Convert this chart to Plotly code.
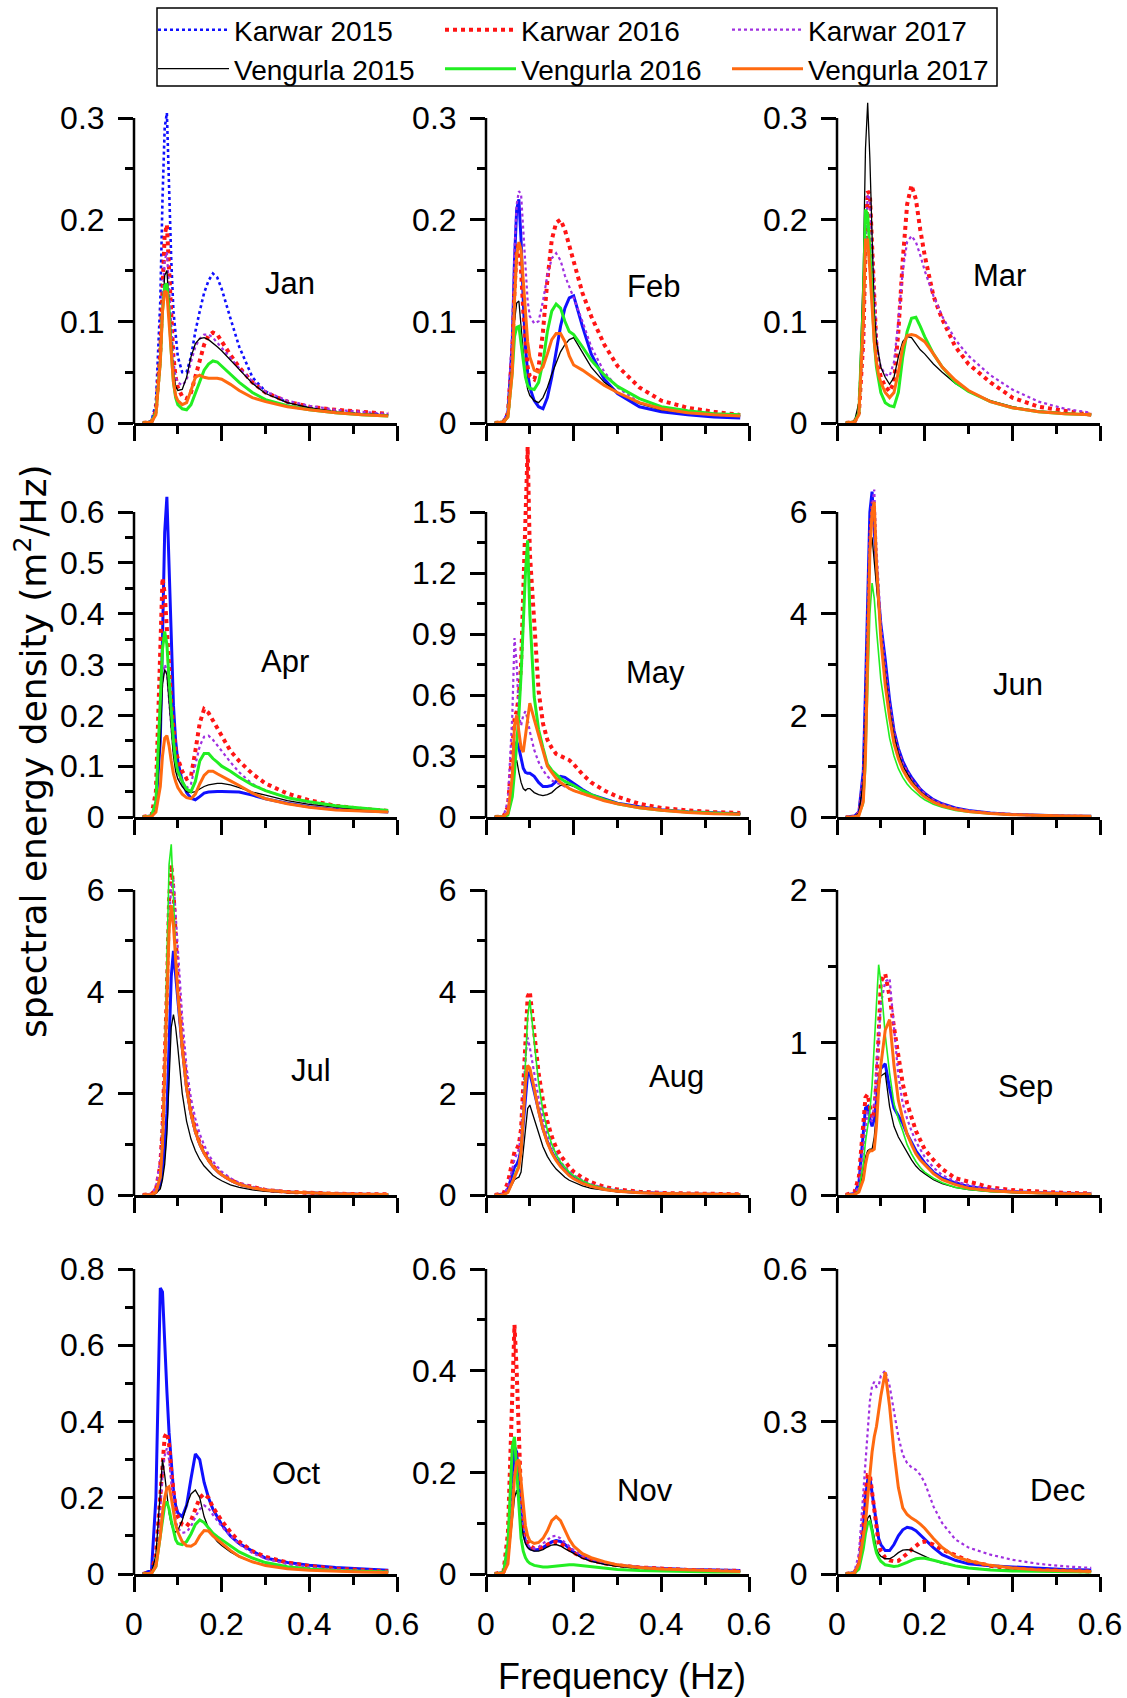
import plotly.graph_objects as go

# ---------------- data ----------------
FREQ = [0.02, 0.04, 0.05, 0.06, 0.065, 0.07, 0.075, 0.08, 0.085, 0.09, 0.095, 0.10, 0.11, 0.12, 0.13,
        0.14, 0.15, 0.16, 0.17, 0.18, 0.19, 0.20, 0.22, 0.24, 0.27, 0.30, 0.35, 0.40, 0.46, 0.52, 0.58]

JAN_K15 = [0, 0.002, 0.02, 0.12, 0.22, 0.29, 0.305, 0.23, 0.16, 0.11, 0.085, 0.065, 0.05, 0.05, 0.065, 0.09, 0.11, 0.128, 0.14, 0.147, 0.143, 0.132, 0.103, 0.075, 0.045, 0.031, 0.02, 0.015, 0.011, 0.009, 0.008]
JAN_K16 = [0, 0.001, 0.012, 0.07, 0.13, 0.185, 0.195, 0.15, 0.1, 0.065, 0.045, 0.035, 0.026, 0.024, 0.03, 0.045, 0.062, 0.077, 0.086, 0.089, 0.087, 0.08, 0.067, 0.055, 0.04, 0.03, 0.021, 0.016, 0.013, 0.011, 0.009]
JAN_K17 = [0, 0.001, 0.012, 0.065, 0.12, 0.16, 0.168, 0.13, 0.09, 0.06, 0.045, 0.04, 0.037, 0.042, 0.06, 0.075, 0.083, 0.087, 0.087, 0.084, 0.079, 0.074, 0.064, 0.054, 0.041, 0.031, 0.022, 0.017, 0.013, 0.011, 0.009]
JAN_V15 = [0, 0.001, 0.01, 0.06, 0.11, 0.145, 0.15, 0.12, 0.08, 0.05, 0.036, 0.032, 0.033, 0.045, 0.065, 0.078, 0.083, 0.084, 0.082, 0.078, 0.075, 0.071, 0.062, 0.052, 0.039, 0.029, 0.02, 0.015, 0.011, 0.009, 0.008]
JAN_V16 = [0, 0.001, 0.01, 0.06, 0.11, 0.135, 0.137, 0.11, 0.07, 0.04, 0.025, 0.018, 0.014, 0.013, 0.018, 0.03, 0.042, 0.052, 0.058, 0.061, 0.06, 0.056, 0.048, 0.04, 0.03, 0.023, 0.017, 0.013, 0.01, 0.008, 0.007]
JAN_V17 = [0, 0.001, 0.008, 0.06, 0.11, 0.13, 0.128, 0.1, 0.065, 0.04, 0.027, 0.022, 0.018, 0.02, 0.032, 0.045, 0.047, 0.045, 0.044, 0.044, 0.044, 0.043, 0.038, 0.032, 0.025, 0.021, 0.016, 0.013, 0.01, 0.008, 0.007]

FEB_K15 = [0, 0.001, 0.01, 0.08, 0.16, 0.21, 0.22, 0.18, 0.12, 0.075, 0.05, 0.035, 0.022, 0.016, 0.014, 0.025, 0.045, 0.07, 0.095, 0.113, 0.123, 0.125, 0.095, 0.068, 0.043, 0.029, 0.016, 0.011, 0.008, 0.006, 0.005]
FEB_K16 = [0, 0.001, 0.01, 0.07, 0.13, 0.17, 0.177, 0.15, 0.11, 0.075, 0.055, 0.046, 0.043, 0.055, 0.09, 0.14, 0.18, 0.197, 0.2, 0.19, 0.175, 0.158, 0.128, 0.105, 0.077, 0.056, 0.035, 0.022, 0.015, 0.011, 0.008]
FEB_K17 = [0, 0.001, 0.012, 0.09, 0.17, 0.215, 0.228, 0.225, 0.19, 0.15, 0.12, 0.105, 0.098, 0.1, 0.12, 0.145, 0.162, 0.167, 0.16, 0.145, 0.133, 0.123, 0.1, 0.075, 0.05, 0.035, 0.02, 0.014, 0.01, 0.008, 0.007]
FEB_V15 = [0, 0.001, 0.008, 0.06, 0.1, 0.118, 0.12, 0.095, 0.065, 0.045, 0.033, 0.027, 0.022, 0.02, 0.025, 0.035, 0.048, 0.06, 0.07, 0.077, 0.082, 0.084, 0.07, 0.055, 0.04, 0.03, 0.019, 0.013, 0.01, 0.008, 0.007]
FEB_V16 = [0, 0.001, 0.006, 0.05, 0.085, 0.094, 0.095, 0.08, 0.06, 0.045, 0.037, 0.034, 0.033, 0.04, 0.06, 0.09, 0.11, 0.117, 0.113, 0.1, 0.09, 0.087, 0.075, 0.062, 0.047, 0.036, 0.024, 0.016, 0.012, 0.009, 0.008]
FEB_V17 = [0, 0.001, 0.006, 0.05, 0.12, 0.165, 0.178, 0.17, 0.14, 0.11, 0.08, 0.065, 0.052, 0.05, 0.055, 0.068, 0.082, 0.088, 0.088, 0.08, 0.066, 0.057, 0.052, 0.046, 0.037, 0.03, 0.02, 0.014, 0.01, 0.008, 0.007]

MAR_K15 = None
MAR_K16 = [0, 0.001, 0.01, 0.08, 0.17, 0.228, 0.225, 0.17, 0.11, 0.075, 0.055, 0.045, 0.036, 0.031, 0.04, 0.09, 0.16, 0.215, 0.234, 0.22, 0.19, 0.165, 0.125, 0.102, 0.075, 0.058, 0.04, 0.025, 0.016, 0.012, 0.008]
MAR_K17 = [0, 0.001, 0.01, 0.08, 0.17, 0.225, 0.22, 0.17, 0.12, 0.085, 0.065, 0.055, 0.048, 0.046, 0.06, 0.1, 0.15, 0.178, 0.184, 0.178, 0.165, 0.15, 0.125, 0.105, 0.082, 0.066, 0.047, 0.033, 0.021, 0.014, 0.01]
MAR_V15 = [0, 0.002, 0.02, 0.15, 0.27, 0.315, 0.26, 0.17, 0.11, 0.08, 0.065, 0.055, 0.045, 0.038, 0.045, 0.065, 0.08, 0.085, 0.084, 0.078, 0.072, 0.068, 0.058, 0.05, 0.039, 0.031, 0.022, 0.016, 0.012, 0.01, 0.008]
MAR_V16 = [0, 0.001, 0.01, 0.12, 0.21, 0.205, 0.17, 0.12, 0.08, 0.055, 0.04, 0.03, 0.02, 0.017, 0.016, 0.03, 0.065, 0.09, 0.103, 0.104, 0.095, 0.085, 0.068, 0.055, 0.04, 0.031, 0.021, 0.015, 0.011, 0.009, 0.008]
MAR_V17 = [0, 0.001, 0.008, 0.1, 0.18, 0.18, 0.15, 0.11, 0.08, 0.06, 0.047, 0.04, 0.03, 0.025, 0.03, 0.05, 0.075, 0.086, 0.087, 0.086, 0.083, 0.08, 0.068, 0.055, 0.042, 0.032, 0.021, 0.015, 0.011, 0.009, 0.008]

APR_K15 = [0, 0.002, 0.02, 0.15, 0.35, 0.56, 0.63, 0.5, 0.33, 0.22, 0.15, 0.11, 0.07, 0.048, 0.037, 0.034, 0.04, 0.047, 0.049, 0.05, 0.05, 0.05, 0.05, 0.049, 0.043, 0.036, 0.027, 0.02, 0.015, 0.012, 0.01]
APR_K16 = [0, 0.003, 0.05, 0.3, 0.47, 0.44, 0.38, 0.3, 0.22, 0.17, 0.13, 0.115, 0.09, 0.075, 0.08, 0.13, 0.185, 0.212, 0.205, 0.19, 0.175, 0.16, 0.13, 0.11, 0.085, 0.066, 0.046, 0.033, 0.022, 0.016, 0.012]
APR_K17 = [0, 0.002, 0.03, 0.18, 0.27, 0.3, 0.29, 0.23, 0.17, 0.13, 0.1, 0.085, 0.065, 0.057, 0.065, 0.1, 0.14, 0.158, 0.16, 0.152, 0.14, 0.13, 0.108, 0.088, 0.065, 0.052, 0.038, 0.028, 0.019, 0.014, 0.01]
APR_V15 = [0, 0.002, 0.02, 0.15, 0.26, 0.29, 0.28, 0.22, 0.16, 0.12, 0.09, 0.075, 0.06, 0.05, 0.048, 0.05, 0.055, 0.06, 0.063, 0.065, 0.066, 0.066, 0.063, 0.058, 0.049, 0.043, 0.032, 0.025, 0.019, 0.014, 0.01]
APR_V16 = [0, 0.002, 0.03, 0.22, 0.33, 0.365, 0.34, 0.27, 0.2, 0.15, 0.11, 0.09, 0.07, 0.055, 0.05, 0.07, 0.11, 0.125, 0.125, 0.115, 0.108, 0.1, 0.09, 0.078, 0.063, 0.052, 0.038, 0.03, 0.022, 0.017, 0.013]
APR_V17 = [0, 0.001, 0.01, 0.06, 0.12, 0.155, 0.16, 0.14, 0.11, 0.085, 0.07, 0.058, 0.045, 0.038, 0.036, 0.045, 0.065, 0.082, 0.09, 0.09, 0.085, 0.08, 0.071, 0.062, 0.047, 0.036, 0.026, 0.019, 0.014, 0.012, 0.01]

MAY_K15 = [0, 0.002, 0.02, 0.15, 0.3, 0.37, 0.34, 0.28, 0.24, 0.22, 0.215, 0.215, 0.2, 0.17, 0.15, 0.15, 0.155, 0.175, 0.2, 0.195, 0.18, 0.165, 0.135, 0.11, 0.088, 0.068, 0.05, 0.036, 0.026, 0.02, 0.016]
MAY_K16 = [0, 0.003, 0.05, 0.3, 0.48, 0.52, 0.6, 0.75, 1.1, 1.5, 1.82, 1.3, 0.92, 0.62, 0.46, 0.38, 0.34, 0.31, 0.3, 0.29, 0.28, 0.26, 0.21, 0.17, 0.13, 0.1, 0.065, 0.045, 0.032, 0.024, 0.02]
MAY_K17 = [0, 0.003, 0.08, 0.5, 0.88, 0.75, 0.5, 0.45, 0.5, 0.52, 0.48, 0.42, 0.33, 0.27, 0.23, 0.2, 0.18, 0.17, 0.16, 0.15, 0.14, 0.13, 0.115, 0.1, 0.08, 0.066, 0.048, 0.035, 0.025, 0.02, 0.016]
MAY_V15 = [0, 0.002, 0.02, 0.15, 0.26, 0.28, 0.22, 0.17, 0.14, 0.13, 0.14, 0.14, 0.12, 0.11, 0.105, 0.11, 0.12, 0.14, 0.155, 0.16, 0.158, 0.15, 0.13, 0.11, 0.088, 0.068, 0.048, 0.035, 0.025, 0.02, 0.016]
MAY_V16 = [0, 0.001, 0.01, 0.1, 0.22, 0.35, 0.5, 0.7, 0.95, 1.2, 1.36, 1.0, 0.59, 0.43, 0.34, 0.26, 0.23, 0.21, 0.19, 0.175, 0.165, 0.155, 0.13, 0.11, 0.085, 0.065, 0.045, 0.033, 0.024, 0.018, 0.013]
MAY_V17 = [0, 0.002, 0.02, 0.2, 0.45, 0.5, 0.42, 0.34, 0.32, 0.4, 0.5, 0.56, 0.48, 0.4, 0.33, 0.25, 0.22, 0.19, 0.17, 0.155, 0.14, 0.13, 0.115, 0.1, 0.08, 0.065, 0.045, 0.033, 0.022, 0.016, 0.013]

JUN_K15 = [0, 0.02, 0.1, 0.9, 2.5, 4.5, 6.0, 6.4, 5.6, 4.9, 4.3, 3.8, 3.1, 2.3, 1.7, 1.35, 1.1, 0.92, 0.78, 0.66, 0.55, 0.47, 0.34, 0.26, 0.18, 0.13, 0.08, 0.05, 0.03, 0.02, 0.015]
JUN_K16 = [0, 0.02, 0.1, 0.8, 2.2, 4.0, 5.6, 6.2, 5.9, 4.9, 4.2, 3.7, 2.9, 2.2, 1.65, 1.3, 1.05, 0.88, 0.74, 0.63, 0.53, 0.45, 0.33, 0.25, 0.17, 0.12, 0.075, 0.048, 0.03, 0.02, 0.015]
JUN_K17 = [0, 0.02, 0.1, 0.8, 2.0, 3.8, 5.4, 6.1, 6.44, 5.3, 4.4, 3.8, 2.9, 2.2, 1.65, 1.3, 1.05, 0.88, 0.74, 0.63, 0.53, 0.45, 0.33, 0.25, 0.17, 0.12, 0.075, 0.048, 0.03, 0.02, 0.015]
JUN_V15 = [0, 0.01, 0.08, 0.7, 2.0, 3.8, 5.2, 5.5, 5.0, 4.5, 4.0, 3.6, 2.8, 2.1, 1.6, 1.25, 1.0, 0.84, 0.71, 0.6, 0.5, 0.43, 0.31, 0.23, 0.16, 0.11, 0.07, 0.045, 0.028, 0.018, 0.013]
JUN_V16 = [0, 0.005, 0.03, 0.25, 0.9, 2.4, 4.0, 4.6, 4.3, 3.7, 3.1, 2.7, 2.1, 1.55, 1.2, 0.95, 0.78, 0.65, 0.55, 0.47, 0.4, 0.34, 0.25, 0.19, 0.13, 0.095, 0.06, 0.04, 0.025, 0.016, 0.012]
JUN_V17 = [0, 0.005, 0.03, 0.3, 1.2, 3.2, 5.2, 6.0, 6.2, 5.0, 4.1, 3.5, 2.6, 1.95, 1.45, 1.15, 0.93, 0.78, 0.66, 0.56, 0.47, 0.4, 0.29, 0.22, 0.15, 0.11, 0.07, 0.045, 0.028, 0.018, 0.013]

JUL_K15 = [0, 0.01, 0.05, 0.2, 0.5, 0.9, 1.6, 3.0, 4.3, 4.8, 4.3, 3.8, 2.9, 2.1, 1.6, 1.25, 1.0, 0.82, 0.68, 0.56, 0.47, 0.4, 0.29, 0.21, 0.14, 0.1, 0.06, 0.04, 0.025, 0.017, 0.012]
JUL_K16 = [0, 0.02, 0.1, 0.6, 1.3, 2.4, 4.0, 5.8, 6.5, 6.0, 5.0, 4.2, 3.0, 2.2, 1.65, 1.28, 1.02, 0.84, 0.7, 0.58, 0.48, 0.41, 0.3, 0.22, 0.15, 0.1, 0.06, 0.04, 0.025, 0.017, 0.012]
JUL_K17 = [0, 0.03, 0.15, 0.7, 1.5, 2.6, 4.0, 5.4, 6.1, 6.2, 5.5, 4.8, 3.5, 2.5, 1.9, 1.5, 1.2, 0.98, 0.8, 0.66, 0.55, 0.46, 0.33, 0.24, 0.16, 0.11, 0.065, 0.042, 0.026, 0.018, 0.013]
JUL_V15 = [0, 0.005, 0.03, 0.12, 0.3, 0.6, 1.2, 2.3, 3.3, 3.55, 3.3, 2.9, 2.0, 1.45, 1.1, 0.87, 0.7, 0.57, 0.47, 0.39, 0.33, 0.28, 0.2, 0.15, 0.1, 0.07, 0.045, 0.03, 0.02, 0.013, 0.01]
JUL_V16 = [0, 0.01, 0.05, 0.4, 1.2, 2.6, 4.6, 6.5, 6.9, 5.8, 4.8, 4.0, 2.9, 2.1, 1.6, 1.25, 1.0, 0.82, 0.68, 0.56, 0.47, 0.4, 0.29, 0.21, 0.14, 0.1, 0.06, 0.04, 0.025, 0.017, 0.012]
JUL_V17 = [0, 0.01, 0.05, 0.35, 1.0, 2.2, 3.8, 5.2, 5.7, 5.3, 4.6, 3.97, 2.9, 2.1, 1.6, 1.25, 1.0, 0.82, 0.68, 0.56, 0.47, 0.4, 0.29, 0.21, 0.14, 0.1, 0.06, 0.04, 0.025, 0.017, 0.012]

AUG_K15 = [0, 0.02, 0.12, 0.4, 0.55, 0.6, 0.7, 0.9, 1.4, 2.0, 2.4, 2.4, 2.05, 1.65, 1.3, 1.05, 0.85, 0.7, 0.58, 0.48, 0.4, 0.34, 0.25, 0.18, 0.12, 0.08, 0.05, 0.03, 0.02, 0.014, 0.01]
AUG_K16 = [0, 0.03, 0.25, 0.6, 0.85, 0.9, 1.0, 1.3, 2.0, 3.0, 3.9, 4.0, 3.2, 2.4, 1.85, 1.45, 1.15, 0.93, 0.78, 0.66, 0.55, 0.46, 0.34, 0.25, 0.16, 0.11, 0.065, 0.04, 0.025, 0.018, 0.014]
AUG_K17 = [0, 0.02, 0.15, 0.5, 0.7, 0.8, 0.9, 1.2, 1.9, 2.7, 3.1, 2.9, 2.4, 1.9, 1.5, 1.2, 0.97, 0.8, 0.66, 0.55, 0.46, 0.39, 0.29, 0.21, 0.14, 0.095, 0.058, 0.036, 0.022, 0.016, 0.012]
AUG_V15 = [0, 0.005, 0.05, 0.2, 0.3, 0.33, 0.35, 0.45, 0.9, 1.4, 1.7, 1.77, 1.5, 1.2, 0.95, 0.76, 0.62, 0.51, 0.42, 0.35, 0.29, 0.25, 0.18, 0.13, 0.09, 0.06, 0.038, 0.025, 0.016, 0.011, 0.008]
AUG_V16 = [0, 0.005, 0.05, 0.25, 0.4, 0.5, 0.6, 0.9, 1.6, 2.6, 3.5, 3.84, 3.0, 2.2, 1.65, 1.28, 1.0, 0.8, 0.65, 0.54, 0.45, 0.38, 0.28, 0.2, 0.13, 0.09, 0.055, 0.035, 0.022, 0.015, 0.011]
AUG_V17 = [0, 0.005, 0.05, 0.25, 0.38, 0.45, 0.55, 0.85, 1.5, 2.2, 2.55, 2.5, 2.1, 1.65, 1.3, 1.03, 0.83, 0.68, 0.56, 0.46, 0.38, 0.32, 0.23, 0.17, 0.11, 0.075, 0.045, 0.03, 0.019, 0.013, 0.01]

SEP_K15 = [0, 0.01, 0.08, 0.4, 0.57, 0.58, 0.5, 0.45, 0.5, 0.62, 0.75, 0.83, 0.86, 0.7, 0.57, 0.52, 0.47, 0.4, 0.34, 0.29, 0.25, 0.21, 0.15, 0.11, 0.08, 0.055, 0.035, 0.022, 0.015, 0.011, 0.008]
SEP_K16 = [0, 0.02, 0.12, 0.5, 0.64, 0.66, 0.58, 0.5, 0.55, 0.75, 1.05, 1.4, 1.45, 1.3, 1.1, 0.9, 0.73, 0.6, 0.5, 0.42, 0.36, 0.3, 0.23, 0.17, 0.11, 0.085, 0.05, 0.032, 0.02, 0.014, 0.01]
SEP_K17 = [0, 0.01, 0.06, 0.3, 0.45, 0.55, 0.5, 0.48, 0.6, 0.8, 1.05, 1.25, 1.4, 1.42, 1.1, 0.78, 0.6, 0.5, 0.42, 0.35, 0.3, 0.25, 0.18, 0.13, 0.09, 0.065, 0.04, 0.026, 0.017, 0.012, 0.009]
SEP_V15 = [0, 0.005, 0.03, 0.15, 0.25, 0.29, 0.3, 0.3, 0.38, 0.55, 0.7, 0.78, 0.8, 0.58, 0.45, 0.38, 0.33, 0.28, 0.23, 0.19, 0.16, 0.14, 0.1, 0.075, 0.05, 0.035, 0.022, 0.015, 0.01, 0.007, 0.005]
SEP_V16 = [0, 0.005, 0.03, 0.2, 0.35, 0.45, 0.55, 0.72, 0.95, 1.25, 1.51, 1.4, 1.05, 0.8, 0.6, 0.5, 0.42, 0.33, 0.27, 0.22, 0.18, 0.15, 0.11, 0.08, 0.05, 0.036, 0.022, 0.015, 0.01, 0.007, 0.005]
SEP_V17 = [0, 0.003, 0.02, 0.1, 0.2, 0.27, 0.29, 0.29, 0.3, 0.45, 0.7, 0.85, 1.08, 1.15, 0.85, 0.62, 0.5, 0.4, 0.33, 0.27, 0.23, 0.2, 0.14, 0.1, 0.068, 0.045, 0.028, 0.019, 0.013, 0.009, 0.007]

OCT_K15 = [0, 0.01, 0.2, 0.75, 0.74, 0.6, 0.48, 0.37, 0.28, 0.22, 0.18, 0.16, 0.15, 0.18, 0.25, 0.315, 0.3, 0.24, 0.2, 0.17, 0.15, 0.13, 0.1, 0.08, 0.06, 0.042, 0.03, 0.023, 0.017, 0.013, 0.01]
OCT_K16 = [0, 0.005, 0.05, 0.2, 0.3, 0.36, 0.37, 0.34, 0.27, 0.21, 0.17, 0.15, 0.13, 0.125, 0.14, 0.17, 0.2, 0.21, 0.2, 0.175, 0.155, 0.14, 0.11, 0.085, 0.06, 0.045, 0.03, 0.021, 0.014, 0.01, 0.007]
OCT_K17 = [0, 0.004, 0.04, 0.17, 0.26, 0.31, 0.33, 0.3, 0.24, 0.18, 0.14, 0.12, 0.108, 0.11, 0.125, 0.15, 0.17, 0.18, 0.172, 0.155, 0.14, 0.125, 0.1, 0.078, 0.055, 0.04, 0.026, 0.018, 0.012, 0.009, 0.006]
OCT_V15 = [0, 0.004, 0.05, 0.22, 0.3, 0.26, 0.2, 0.16, 0.13, 0.115, 0.11, 0.115, 0.14, 0.18, 0.21, 0.22, 0.2, 0.15, 0.12, 0.1, 0.085, 0.075, 0.058, 0.045, 0.032, 0.024, 0.016, 0.011, 0.008, 0.006, 0.005]
OCT_V16 = [0, 0.002, 0.02, 0.1, 0.15, 0.18, 0.19, 0.17, 0.14, 0.11, 0.09, 0.08, 0.077, 0.085, 0.105, 0.13, 0.142, 0.135, 0.12, 0.107, 0.098, 0.09, 0.072, 0.058, 0.042, 0.03, 0.019, 0.013, 0.009, 0.007, 0.005]
OCT_V17 = [0, 0.002, 0.02, 0.1, 0.16, 0.2, 0.225, 0.229, 0.2, 0.16, 0.13, 0.11, 0.085, 0.074, 0.073, 0.08, 0.1, 0.114, 0.113, 0.1, 0.09, 0.08, 0.062, 0.046, 0.032, 0.022, 0.014, 0.01, 0.007, 0.005, 0.004]

NOV_K15 = [0, 0.003, 0.04, 0.18, 0.25, 0.24, 0.18, 0.12, 0.085, 0.065, 0.055, 0.05, 0.047, 0.048, 0.052, 0.058, 0.063, 0.066, 0.064, 0.058, 0.05, 0.043, 0.033, 0.027, 0.021, 0.017, 0.013, 0.011, 0.009, 0.008, 0.007]
NOV_K16 = [0, 0.005, 0.08, 0.35, 0.49, 0.4, 0.25, 0.15, 0.1, 0.075, 0.063, 0.056, 0.05, 0.05, 0.053, 0.058, 0.062, 0.063, 0.06, 0.054, 0.048, 0.042, 0.033, 0.027, 0.021, 0.017, 0.013, 0.01, 0.008, 0.007, 0.006]
NOV_K17 = [0, 0.003, 0.04, 0.15, 0.2, 0.2, 0.16, 0.11, 0.08, 0.065, 0.057, 0.052, 0.05, 0.053, 0.06, 0.068, 0.074, 0.075, 0.07, 0.062, 0.054, 0.047, 0.036, 0.029, 0.022, 0.018, 0.014, 0.011, 0.009, 0.008, 0.007]
NOV_V15 = [0, 0.002, 0.02, 0.1, 0.15, 0.165, 0.14, 0.1, 0.075, 0.06, 0.052, 0.048, 0.045, 0.045, 0.048, 0.053, 0.057, 0.058, 0.055, 0.05, 0.045, 0.04, 0.031, 0.025, 0.019, 0.015, 0.011, 0.009, 0.007, 0.006, 0.005]
NOV_V16 = [0, 0.003, 0.06, 0.25, 0.27, 0.2, 0.12, 0.07, 0.045, 0.032, 0.025, 0.021, 0.017, 0.015, 0.014, 0.014, 0.015, 0.016, 0.017, 0.018, 0.018, 0.018, 0.016, 0.014, 0.011, 0.009, 0.007, 0.006, 0.005, 0.004, 0.004]
NOV_V17 = [0, 0.002, 0.02, 0.12, 0.19, 0.22, 0.225, 0.18, 0.13, 0.095, 0.075, 0.065, 0.06, 0.062, 0.07, 0.085, 0.105, 0.113, 0.105, 0.085, 0.068, 0.055, 0.04, 0.032, 0.024, 0.018, 0.013, 0.01, 0.008, 0.006, 0.005]

DEC_K15 = [0, 0.003, 0.02, 0.09, 0.15, 0.185, 0.19, 0.16, 0.12, 0.09, 0.07, 0.058, 0.046, 0.046, 0.058, 0.075, 0.087, 0.092, 0.09, 0.085, 0.077, 0.07, 0.052, 0.038, 0.027, 0.02, 0.016, 0.014, 0.011, 0.009, 0.008]
DEC_K16 = [0, 0.003, 0.02, 0.1, 0.16, 0.195, 0.195, 0.16, 0.12, 0.085, 0.06, 0.045, 0.032, 0.027, 0.025, 0.026, 0.032, 0.04, 0.048, 0.056, 0.062, 0.064, 0.058, 0.048, 0.036, 0.026, 0.016, 0.011, 0.008, 0.006, 0.005]
DEC_K17 = [0, 0.005, 0.04, 0.15, 0.22, 0.28, 0.34, 0.37, 0.378, 0.368, 0.37, 0.39, 0.4, 0.37, 0.32, 0.27, 0.235, 0.218, 0.21, 0.205, 0.195, 0.18, 0.133, 0.1, 0.068, 0.052, 0.038, 0.028, 0.02, 0.015, 0.012]
DEC_V15 = [0, 0.002, 0.015, 0.06, 0.09, 0.11, 0.116, 0.095, 0.07, 0.05, 0.04, 0.035, 0.03, 0.03, 0.035, 0.042, 0.047, 0.048, 0.047, 0.043, 0.038, 0.034, 0.027, 0.021, 0.016, 0.012, 0.009, 0.007, 0.006, 0.005, 0.005]
DEC_V16 = [0, 0.002, 0.01, 0.05, 0.08, 0.1, 0.103, 0.085, 0.06, 0.042, 0.032, 0.025, 0.018, 0.016, 0.015, 0.016, 0.019, 0.023, 0.027, 0.03, 0.031, 0.031, 0.027, 0.022, 0.016, 0.012, 0.008, 0.006, 0.005, 0.004, 0.004]
DEC_V17 = [0, 0.002, 0.02, 0.07, 0.1, 0.15, 0.2, 0.24, 0.27, 0.29, 0.32, 0.35, 0.397, 0.33, 0.24, 0.17, 0.13, 0.117, 0.11, 0.105, 0.098, 0.09, 0.07, 0.052, 0.034, 0.026, 0.017, 0.012, 0.008, 0.006, 0.005]

MONTHS = ["Jan", "Feb", "Mar", "Apr", "May", "Jun", "Jul", "Aug", "Sep", "Oct", "Nov", "Dec"]
SERIES = ["Karwar 2015", "Karwar 2016", "Karwar 2017", "Vengurla 2015", "Vengurla 2016", "Vengurla 2017"]
PANEL_DATA = {
    "Jan": [JAN_K15, JAN_K16, JAN_K17, JAN_V15, JAN_V16, JAN_V17],
    "Feb": [FEB_K15, FEB_K16, FEB_K17, FEB_V15, FEB_V16, FEB_V17],
    "Mar": [MAR_K15, MAR_K16, MAR_K17, MAR_V15, MAR_V16, MAR_V17],
    "Apr": [APR_K15, APR_K16, APR_K17, APR_V15, APR_V16, APR_V17],
    "May": [MAY_K15, MAY_K16, MAY_K17, MAY_V15, MAY_V16, MAY_V17],
    "Jun": [JUN_K15, JUN_K16, JUN_K17, JUN_V15, JUN_V16, JUN_V17],
    "Jul": [JUL_K15, JUL_K16, JUL_K17, JUL_V15, JUL_V16, JUL_V17],
    "Aug": [AUG_K15, AUG_K16, AUG_K17, AUG_V15, AUG_V16, AUG_V17],
    "Sep": [SEP_K15, SEP_K16, SEP_K17, SEP_V15, SEP_V16, SEP_V17],
    "Oct": [OCT_K15, OCT_K16, OCT_K17, OCT_V15, OCT_V16, OCT_V17],
    "Nov": [NOV_K15, NOV_K16, NOV_K17, NOV_V15, NOV_V16, NOV_V17],
    "Dec": [DEC_K15, DEC_K16, DEC_K17, DEC_V15, DEC_V16, DEC_V17],
}

Y_TICKS = {
    "Jan": [0, 0.1, 0.2, 0.3], "Feb": [0, 0.1, 0.2, 0.3], "Mar": [0, 0.1, 0.2, 0.3],
    "Apr": [0, 0.1, 0.2, 0.3, 0.4, 0.5, 0.6], "May": [0, 0.3, 0.6, 0.9, 1.2, 1.5], "Jun": [0, 2, 4, 6],
    "Jul": [0, 2, 4, 6], "Aug": [0, 2, 4, 6], "Sep": [0, 1, 2],
    "Oct": [0, 0.2, 0.4, 0.6, 0.8], "Nov": [0, 0.2, 0.4, 0.6], "Dec": [0, 0.3, 0.6],
}
Y_MINOR = {
    "Jan": [0.05, 0.15, 0.25], "Feb": [0.05, 0.15, 0.25], "Mar": [0.05, 0.15, 0.25],
    "Apr": [0.05, 0.15, 0.25, 0.35, 0.45, 0.55], "May": [0.15, 0.45, 0.75, 1.05, 1.35], "Jun": [1, 3, 5],
    "Jul": [1, 3, 5], "Aug": [1, 3, 5], "Sep": [0.5, 1.5],
    "Oct": [0.1, 0.3, 0.5, 0.7], "Nov": [0.1, 0.3, 0.5], "Dec": [0.15, 0.45],
}
X_TICKS = [0, 0.2, 0.4, 0.6]
X_MINOR = [0.1, 0.3, 0.5]

# ---------------- styles ----------------
FONT = "Liberation Sans, Arial, sans-serif"
TITLE_FONT = "DejaVu Sans, Liberation Sans, Arial, sans-serif"
BASE_STYLE = [
    dict(color="#1010FF", width=3, dash="solid"),
    dict(color="#FF1515", width=4, dash="dot"),
    dict(color="#A030E0", width=2.2, dash="dot"),
    dict(color="#000000", width=1.3, dash="solid"),
    dict(color="#22EE22", width=3, dash="solid"),
    dict(color="#FF6A10", width=3, dash="solid"),
]
OVERRIDES = {
    ("Jan", 0): dict(dash="dot", width=2.6),
    ("Jun", 1): dict(width=2.6),
    ("Jun", 4): dict(width=1.6),
    ("Jul", 4): dict(width=1.6),
    ("Aug", 4): dict(width=1.6),
    ("Sep", 4): dict(width=1.6),
}

W, H = 1127, 1698
COL_X0 = [134, 486, 837]
COL_W = 263
ROW_Y0 = [423, 817, 1195, 1574]
ROW_H = 305
EXT = 1.25

MONTH_LABEL_POS = {
    "Jan": (290, 284), "Feb": (653, 287), "Mar": (999, 275),
    "Apr": (285, 661), "May": (655, 673), "Jun": (1018, 684),
    "Jul": (311, 1070), "Aug": (676, 1076), "Sep": (1025, 1086),
    "Oct": (296, 1473), "Nov": (645, 1490), "Dec": (1057, 1490),
}


def px(x):
    return x / W


def py(y):
    return 1 - y / H


def fmt(v):
    return f"{v:g}"


fig = go.Figure()
layout = dict(
    width=W, height=H, autosize=False,
    margin=dict(l=0, r=0, t=0, b=0, pad=0, autoexpand=False),
    paper_bgcolor="white", plot_bgcolor="rgba(0,0,0,0)",
    font=dict(family=FONT, color="black"),
    showlegend=True,
)
shapes = []
annotations = []
TICKFONT = dict(size=32, family=FONT, color="black")

for i, m in enumerate(MONTHS):
    r, c = divmod(i, 3)
    n = i + 1
    xname = "x" if n == 1 else f"x{n}"
    yname = "y" if n == 1 else f"y{n}"
    xkey = "xaxis" if n == 1 else f"xaxis{n}"
    ykey = "yaxis" if n == 1 else f"yaxis{n}"
    top = Y_TICKS[m][-1]
    x0 = COL_X0[c]
    yb = ROW_Y0[r]

    layout[xkey] = dict(
        domain=[px(x0), px(x0 + COL_W)], range=[0, 0.6], anchor=yname,
        showline=True, linewidth=2.5, linecolor="black",
        showgrid=False, zeroline=False, automargin=False,
        tickmode="array", tickvals=X_TICKS, ticktext=[fmt(v) for v in X_TICKS],
        ticks="outside", ticklen=15, tickwidth=2.5, tickcolor="black",
        showticklabels=(r == 3), tickfont=TICKFONT,
        ticklabelstandoff=5,
        minor=dict(tickvals=X_MINOR, ticks="outside", ticklen=8, tickwidth=2.5, tickcolor="black"),
        fixedrange=True,
    )
    layout[ykey] = dict(
        domain=[py(yb), py(yb - ROW_H * EXT)], range=[0, top * EXT], anchor=xname,
        showline=False, showgrid=False, zeroline=False, automargin=False,
        tickmode="array", tickvals=Y_TICKS[m], ticktext=[fmt(v) for v in Y_TICKS[m]],
        ticks="outside", ticklen=15, tickwidth=2.5, tickcolor="black",
        tickfont=TICKFONT,
        ticklabelstandoff=7,
        minor=dict(tickvals=Y_MINOR[m], ticks="outside", ticklen=8, tickwidth=2.5, tickcolor="black"),
        fixedrange=True,
    )
    # y axis line from 0 up to the top tick only
    shapes.append(dict(type="line", xref="paper", yref="paper",
                       x0=px(x0), x1=px(x0), y0=py(yb + 1), y1=py(yb - ROW_H),
                       line=dict(color="black", width=2.5), layer="above"))

    for s, vals in enumerate(PANEL_DATA[m]):
        if vals is None:
            continue
        st = dict(BASE_STYLE[s])
        st.update(OVERRIDES.get((m, s), {}))
        fig.add_trace(go.Scatter(
            x=FREQ, y=vals, mode="lines", name=SERIES[s],
            line=dict(color=st["color"], width=st["width"], dash=st["dash"]),
            xaxis=xname, yaxis=yname,
            legend="legend" if s < 3 else "legend2",
            legendgroup=SERIES[s], showlegend=(i == 0),
            hoverinfo="skip",
        ))

    lx, ly = MONTH_LABEL_POS[m]
    annotations.append(dict(text=m, x=px(lx), y=py(ly), xref="paper", yref="paper",
                            showarrow=False, xanchor="center", yanchor="middle",
                            font=dict(size=31, family=FONT, color="black")))

annotations.append(dict(text="Frequency (Hz)", x=px(622), y=py(1676), xref="paper", yref="paper",
                        showarrow=False, xanchor="center", yanchor="middle",
                        font=dict(size=36, family=FONT, color="black")))
annotations.append(dict(text="spectral energy density (m<sup>2</sup>/Hz)", x=px(31), y=py(751),
                        xref="paper", yref="paper", textangle=-90,
                        showarrow=False, xanchor="center", yanchor="middle",
                        font=dict(size=36, family=TITLE_FONT, color="black")))

# legend frame
shapes.append(dict(type="rect", xref="paper", yref="paper",
                   x0=px(157), x1=px(997), y0=py(86), y1=py(8),
                   line=dict(color="black", width=1.5), fillcolor="rgba(0,0,0,0)", layer="above"))

leg_common = dict(orientation="h", xanchor="left", yanchor="top",
                  bgcolor="rgba(0,0,0,0)", borderwidth=0,
                  font=dict(size=28, family=FONT, color="black"),
                  itemwidth=71, entrywidth=201, entrywidthmode="pixels",
                  traceorder="normal", itemclick=False, itemdoubleclick=False)
layout["legend"] = dict(x=px(153), y=py(5), **leg_common)
layout["legend2"] = dict(x=px(153), y=py(44), **leg_common)
layout["shapes"] = shapes
layout["annotations"] = annotations

fig.update_layout(**layout)
fig.write_html("out.html", include_plotlyjs=True, config={"displayModeBar": False})
